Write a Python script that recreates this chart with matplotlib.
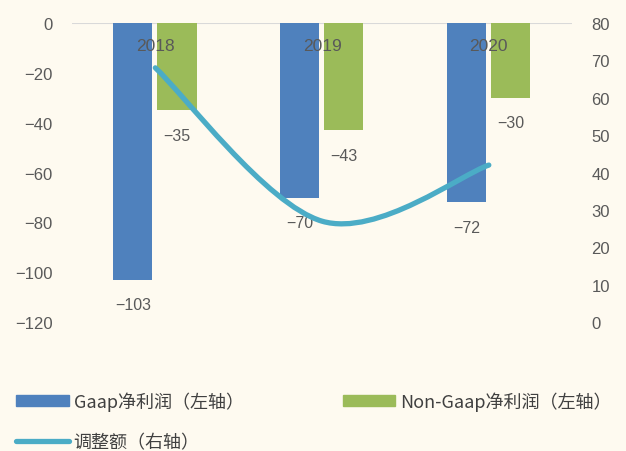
import numpy as np
import matplotlib.pyplot as plt
from matplotlib.path import Path
from matplotlib.patches import PathPatch, Patch
from matplotlib.lines import Line2D

plt.rcParams['font.family'] = ['Liberation Sans', 'Noto Sans CJK SC', 'DejaVu Sans']

# 数据（亿元）
years = ['2018', '2019', '2020']
gaap = [-103, -70, -72]
non_gaap = [-35, -43, -30]
adjust = [68, 27, 42]

BG = '#fefaf0'
BLUE = '#4f81bd'
GREEN = '#9bbb59'
TEAL = '#4bacc6'
TXT = '#595959'

fig = plt.figure(figsize=(6.26, 4.52), dpi=100, facecolor=BG)
ax = fig.add_axes([0.115, 0.285, 0.799, 0.662])
ax.set_facecolor(BG)
ax2 = ax.twinx()

x = np.arange(len(years))
w = 0.235
ax.bar(x - 0.135, gaap, w, color=BLUE, zorder=2)
ax.bar(x + 0.13, non_gaap, w, color=GREEN, zorder=2)
ax.axhline(0, color='#d9d9d9', lw=1.5, zorder=1)

# 数值标签
for xi, v in zip(x - 0.135, gaap):
    ax.annotate(f'\u2212{abs(v)}', (xi, v), xytext=(0, -18), textcoords='offset points',
                ha='center', va='center', fontsize=11.5, color=TXT)
for xi, v in zip(x + 0.13, non_gaap):
    ax.annotate(f'\u2212{abs(v)}', (xi, v), xytext=(0, -18), textcoords='offset points',
                ha='center', va='center', fontsize=11.5, color=TXT)

# 年份标在零线下方
for xi, yr in zip(x, years):
    ax.text(xi, -9, yr, ha='center', va='center', fontsize=12.5, color=TXT, zorder=5)

ax.set_xlim(-0.5, len(years) - 0.5)
ax.set_ylim(-120, 0)
ax.set_yticks(range(-120, 1, 20))
ax.set_xticks([])
ax2.set_ylim(0, 80)
ax2.set_yticks(range(0, 81, 10))

for a in (ax, ax2):
    for s in a.spines.values():
        s.set_visible(False)
    a.tick_params(length=0, labelsize=12, colors=TXT)
ax.tick_params(axis='y', pad=14)
ax2.tick_params(axis='y', pad=14)

# 平滑曲线（Catmull-Rom 转三次贝塞尔）
pts = np.column_stack([x, adjust]).astype(float)
verts = [tuple(pts[0])]
codes = [Path.MOVETO]
for i in range(len(pts) - 1):
    p0 = pts[max(i - 1, 0)]
    p1 = pts[i]
    p2 = pts[i + 1]
    p3 = pts[min(i + 2, len(pts) - 1)]
    verts += [tuple(p1 + (p2 - p0) / 6), tuple(p2 - (p3 - p1) / 6), tuple(p2)]
    codes += [Path.CURVE4] * 3
ax2.add_patch(PathPatch(Path(verts, codes), fill=False, edgecolor=TEAL, lw=3.8,
                        capstyle='round', zorder=4))

handles = [Patch(color=BLUE), Line2D([], [], color=TEAL, lw=3.8, solid_capstyle='round'),
           Patch(color=GREEN)]
labels = ['Gaap净利润（左轴）', '调整额（右轴）', 'Non-Gaap净利润（左轴）']
fig.legend(handles, labels, ncol=2, loc='upper left', bbox_to_anchor=(0.0, 0.168),
           frameon=False, prop={'family': 'Noto Sans CJK SC', 'size': 13},
           handlelength=2.9, handleheight=0.5, handletextpad=0.28,
           columnspacing=5.5, labelspacing=1.22, labelcolor='#404040')

fig.savefig('out.png', dpi=100, facecolor=BG)
